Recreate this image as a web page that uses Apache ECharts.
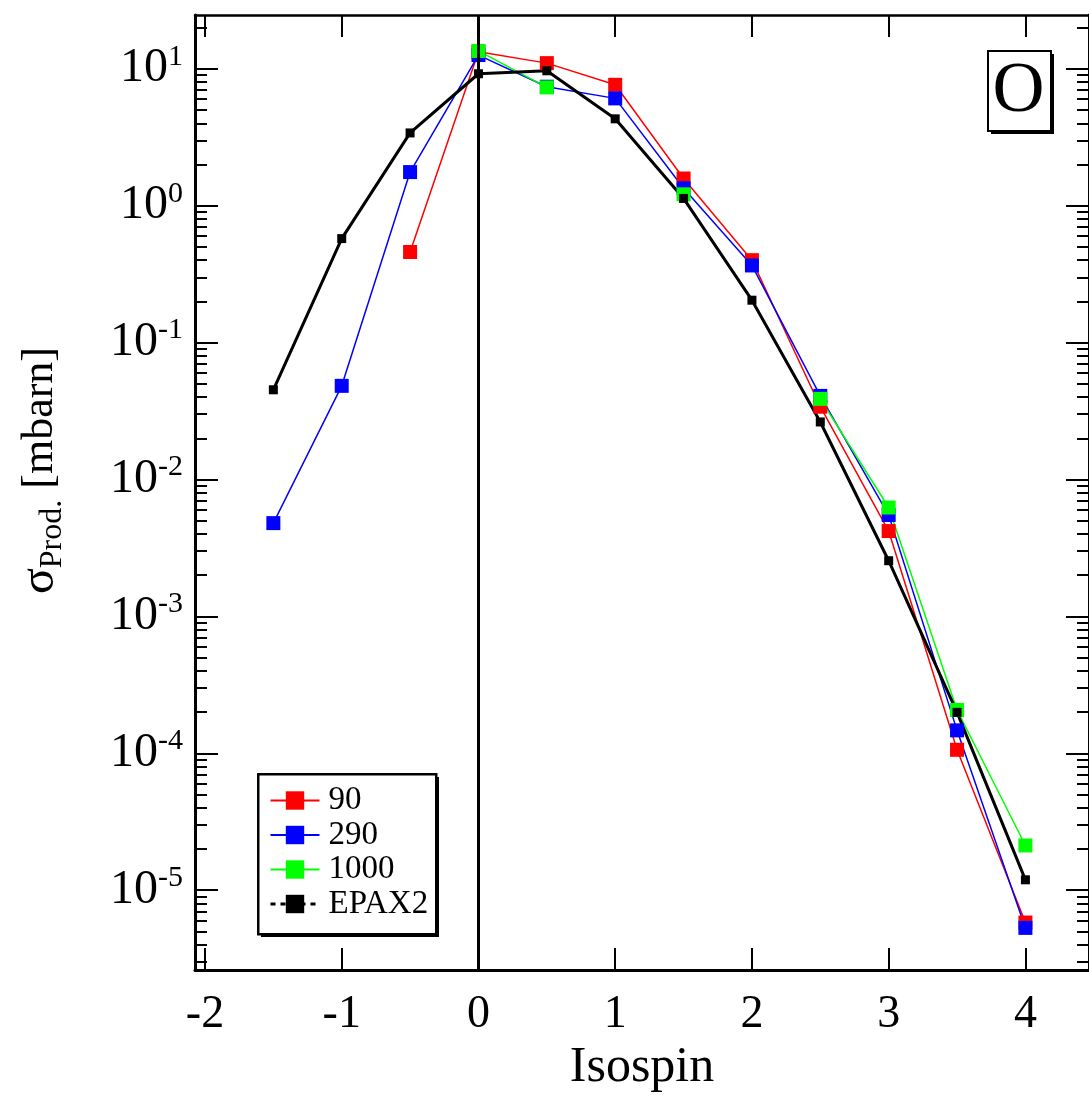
<!DOCTYPE html>
<html>
<head>
<meta charset="utf-8">
<script src="https://cdn.jsdelivr.net/npm/echarts@6/dist/echarts.min.js"></script>
<style>html,body{margin:0;padding:0;background:#fff}#c{width:1089px;height:1098px}</style>
</head>
<body>
<div id="c"></div>
<script>
// ---- data ----
const isospin = [-1.5, -1, -0.5, 0, 0.5, 1, 1.5, 2, 2.5, 3, 3.5, 4];
const sigma90 = [null, null, 0.459, 13.3, 11.0, 7.64, 1.58, 0.40, 0.034, 0.0042, 1.06e-4, 5.8e-6];
const sigma290 = [0.0048, 0.0483, 1.76, 12.6, 7.4, 6.08, 1.34, 0.366, 0.0408, 0.0055, 1.47e-4, 5.3e-6];
const sigma1000 = [null, null, null, 13.5, 7.31, null, 1.21, null, 0.0388, 0.00624, 2.07e-4, 2.12e-5];
const sigmaEPAX2 = [0.0452, 0.575, 3.40, 9.2, 9.67, 4.31, 1.13, 0.204, 0.0263, 0.00255, 1.99e-4, 1.19e-5];
const seriesNames = ['90', '290', '1000', 'EPAX2'];
const xTicks = [-2, -1, 0, 1, 2, 3, 4];
const yDecades = [-5, -4, -3, -2, -1, 0, 1];
const panelLabel = 'O';

// ---- build ----
const FONT = 'Liberation Serif';
const X_MIN = -2.073, X_MAX = 4.465;
const Y_MIN = -5.584, Y_MAX = 1.393;   // log10 space

function toPairs(vals) {
  return isospin.map((x, i) => [x, vals[i] == null ? '-' : Math.log10(vals[i])]);
}
const minorVals = [];
for (let n = -6; n <= 1; n++) {
  for (let k = 2; k <= 9; k++) {
    const v = n + Math.log10(k);
    if (v > Y_MIN && v < Y_MAX) minorVals.push(v);
  }
}

const baseX = {
  type: 'value', min: X_MIN, max: X_MAX, splitLine: {show: false},
  axisLine: {onZero: false, lineStyle: {color: '#000', width: 3}},
  axisTick: {inside: true, length: 22, lineStyle: {color: '#000', width: 2}, customValues: xTicks},
};
const baseY = {
  type: 'value', min: Y_MIN, max: Y_MAX, splitLine: {show: false},
  axisLine: {onZero: false, lineStyle: {color: '#000', width: 3}},
};

const supRich = {
  b: {fontFamily: FONT, fontSize: 48, color: '#000', lineHeight: 54, verticalAlign: 'middle'},
  s: {fontFamily: FONT, fontSize: 30, color: '#000', lineHeight: 26, verticalAlign: 'top'}
};

const colors = ['#ff0000', '#0000ff', '#00ff00', '#000000'];
const datasets = [sigma90, sigma290, sigma1000, sigmaEPAX2];

const series = datasets.map((d, i) => {
  const black = i === 3;
  const s = {
    name: seriesNames[i], type: 'line', xAxisIndex: 0, yAxisIndex: 0,
    data: toPairs(d), connectNulls: false,
    symbol: 'rect', symbolSize: black ? 9 : 14, showSymbol: true,
    lineStyle: {color: colors[i], width: black ? 3 : 1.5},
    itemStyle: {color: colors[i], borderWidth: 0},
    emphasis: {disabled: true}
  };
  if (i === 0) {
    s.markLine = {
      silent: true, symbol: 'none', animation: false,
      label: {show: false},
      lineStyle: {color: '#000', width: 3, type: 'solid'},
      data: [{xAxis: 0}]
    };
  }
  return s;
});

const option = {
  animation: false,
  backgroundColor: '#fff',
  grid: {left: 195, top: 15, right: -5, bottom: 125, containLabel: false},
  xAxis: [
    Object.assign({}, baseX, {
      position: 'bottom',
      axisLabel: {customValues: xTicks, margin: 22, fontFamily: FONT, fontSize: 46, color: '#000',
        formatter: v => String(v)},
      name: 'Isospin', nameLocation: 'middle', nameGap: 72,
      nameTextStyle: {fontFamily: FONT, fontSize: 50, color: '#000'}
    }),
    Object.assign({}, baseX, {position: 'top', axisLabel: {show: false},
      axisLine: {onZero: false, lineStyle: {color: '#000', width: 2.5}}})
  ],
  yAxis: [
    Object.assign({}, baseY, {
      position: 'left',
      axisTick: {inside: true, length: 23, lineStyle: {color: '#000', width: 2}, customValues: yDecades},
      axisLabel: {customValues: yDecades, margin: 12, formatter: v => '{b|10}{s|' + v + '}', rich: supRich},
      name: '{g|σ}{sub|Prod.}{t| [mbarn]}', nameLocation: 'middle', nameRotate: 90, nameGap: 126,
      nameTextStyle: {
        padding: [0, 0, 0, 44],
        rich: {
          g: {fontFamily: FONT, fontSize: 48, color: '#000', lineHeight: 58, verticalAlign: 'middle'},
          sub: {fontFamily: FONT, fontSize: 32, color: '#000', lineHeight: 30, verticalAlign: 'bottom'},
          t: {fontFamily: FONT, fontSize: 44, color: '#000', lineHeight: 58, verticalAlign: 'middle'}
        }
      }
    }),
    Object.assign({}, baseY, {
      position: 'left', axisLine: {show: false, onZero: false}, axisLabel: {show: false},
      axisTick: {inside: true, length: 12, lineStyle: {color: '#000', width: 2}, customValues: minorVals}
    }),
    Object.assign({}, baseY, {
      position: 'right', axisLabel: {show: false},
      axisTick: {inside: true, length: 23, lineStyle: {color: '#000', width: 2}, customValues: yDecades}
    }),
    Object.assign({}, baseY, {
      position: 'right', axisLine: {show: false, onZero: false}, axisLabel: {show: false},
      axisTick: {inside: true, length: 12, lineStyle: {color: '#000', width: 2}, customValues: minorVals}
    })
  ],
  legend: {
    left: 257, top: 775, orient: 'vertical',
    padding: [9, 8, 12, 12],
    itemWidth: 49, itemHeight: 23, itemGap: 1.5,
    textStyle: {fontFamily: FONT, fontSize: 33, color: '#000', lineHeight: 30, padding: [0, 0, 0, 4]},
    selectedMode: false,
    z: 10,
    data: [
      {name: seriesNames[0]},
      {name: seriesNames[1]},
      {name: seriesNames[2]},
      {name: seriesNames[3], lineStyle: {type: [5, 5], width: 3}}
    ]
  },
  graphic: [
    // legend frame with drop shadow
    {type: 'rect', left: 261, top: 777, z: 1, shape: {width: 178, height: 160}, style: {fill: '#000'}},
    {type: 'rect', left: 257, top: 773, z: 2, shape: {width: 178, height: 160}, style: {fill: '#fff', stroke: '#000', lineWidth: 2.5}},
    // panel label box
    {type: 'rect', left: 991, top: 54, shape: {width: 63, height: 80}, style: {fill: '#000'}, z: 100},
    {type: 'rect', left: 987, top: 50, shape: {width: 63, height: 80}, style: {fill: '#fff', stroke: '#000', lineWidth: 2}, z: 101},
    {type: 'text', x: 1018.5, y: 92, z: 102,
      style: {text: panelLabel, fontFamily: FONT, fontSize: 72, fill: '#000', align: 'center', verticalAlign: 'middle'}}
  ],
  series: series
};

const chart = echarts.init(document.getElementById('c'), null, {renderer: 'canvas'});
chart.setOption(option);
</script>
</body>
</html>
